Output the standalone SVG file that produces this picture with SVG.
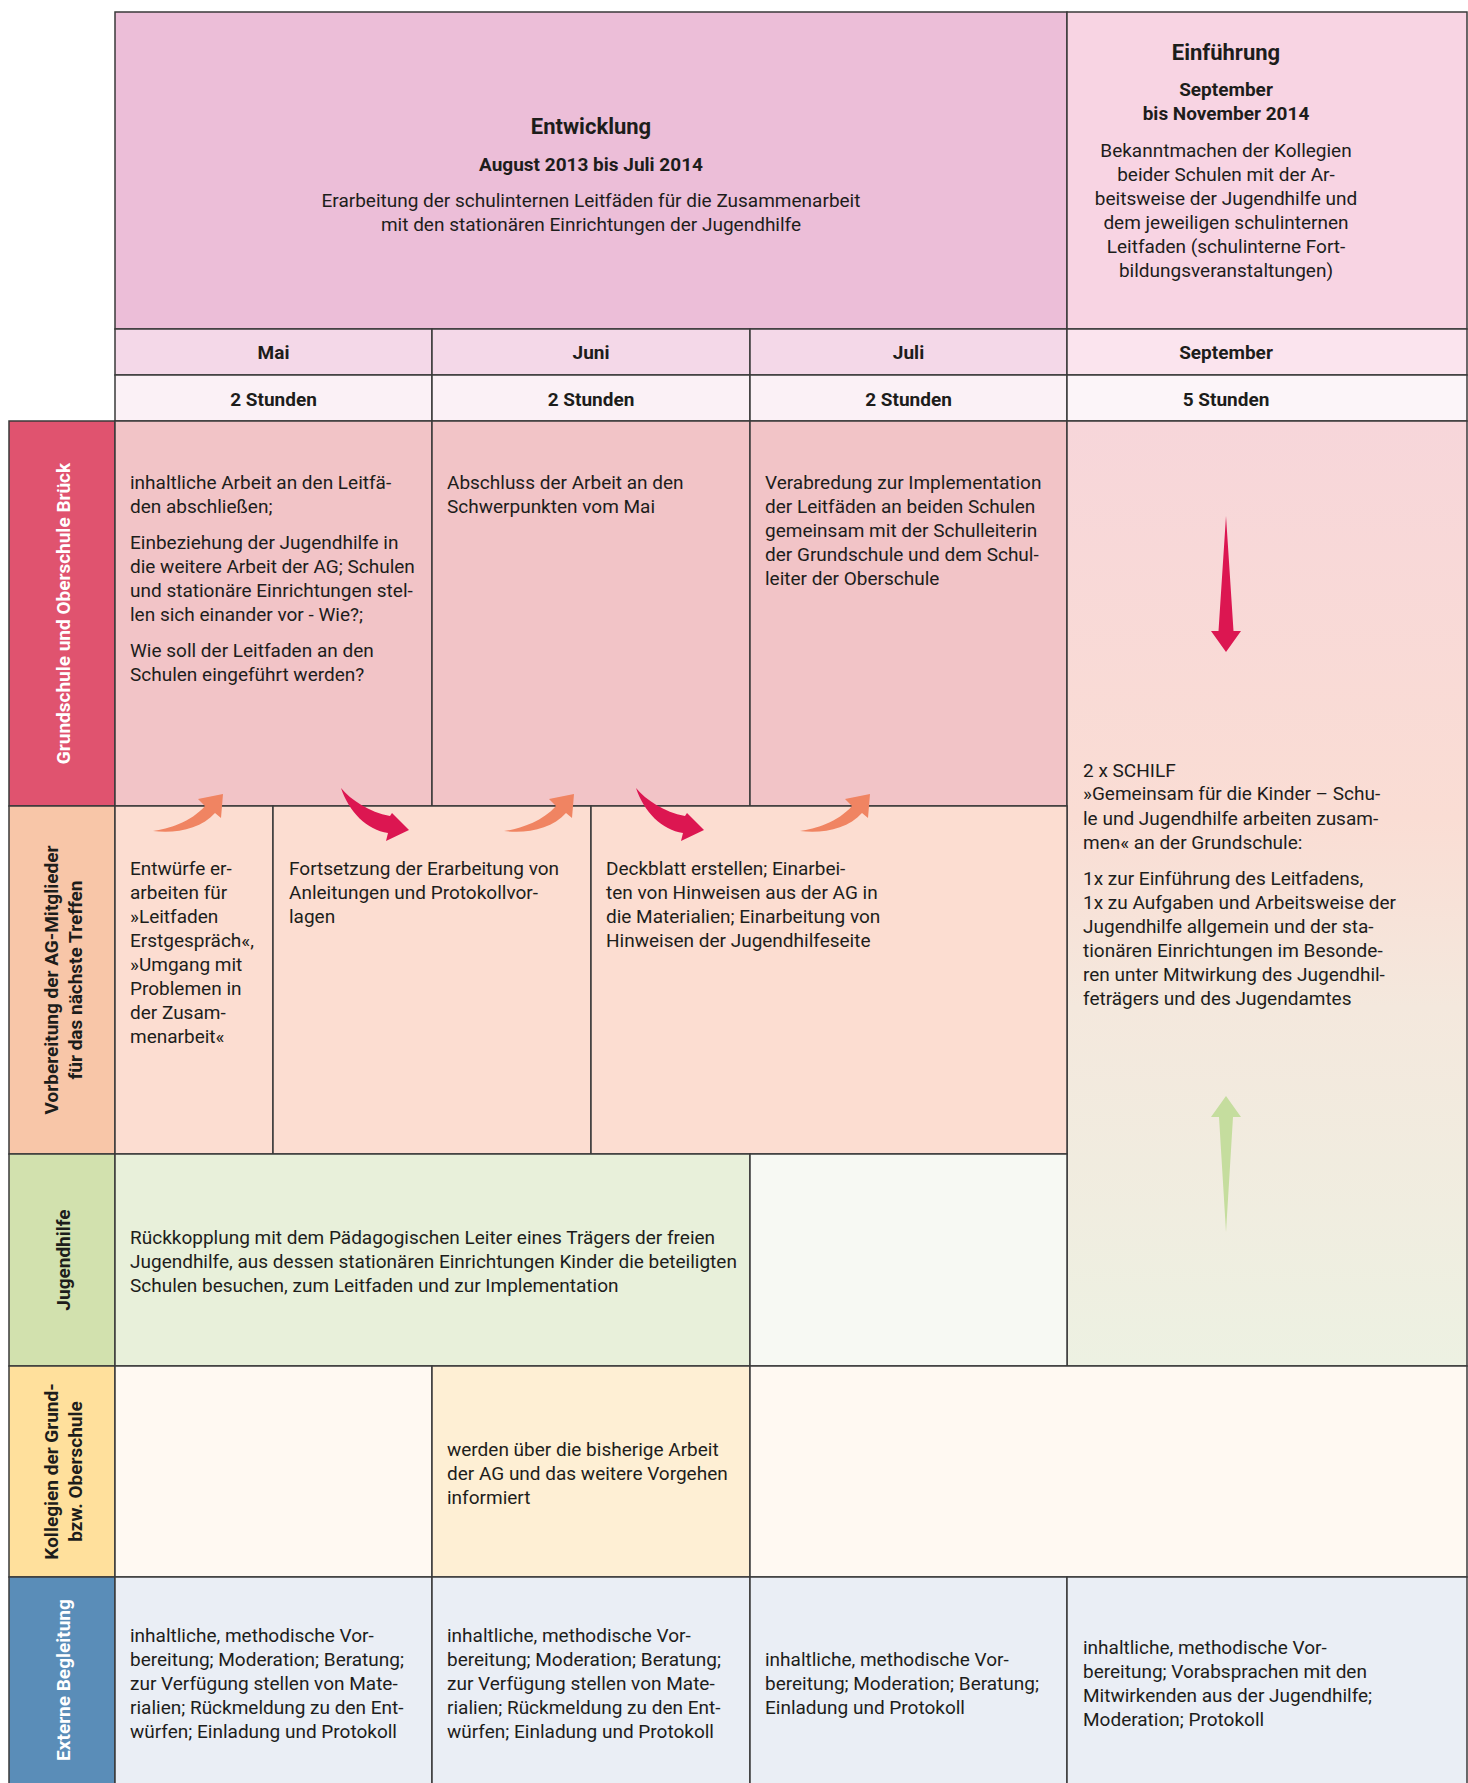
<svg xmlns="http://www.w3.org/2000/svg" xmlns:xlink="http://www.w3.org/1999/xlink" width="1468" height="1783" viewBox="0 0 1468 1783">
<style>
text { font-family: Roboto, "Liberation Sans", sans-serif; font-size: 19px; fill: #1d1d1b; }
.b { font-weight: bold; }
.c { text-anchor: middle; }
.h1 { font-size: 22px; font-weight: bold; }
.w { fill: #ffffff; }
.cell { stroke: #3a3a3a; stroke-width: 1.5; }
</style>
<defs>
<linearGradient id="gSep" x1="0" y1="0" x2="0" y2="1">
<stop offset="0" stop-color="#F7D6DA"/>
<stop offset="0.42" stop-color="#FADDD4"/>
<stop offset="0.62" stop-color="#F4E8DD"/>
<stop offset="1" stop-color="#EDF1E2"/>
</linearGradient>
<path id="curveUp" d="M -70,37 C -55,35 -32,28 -18,12 L -25,5 L 0,0 L -2,24 L -8,19 C -22,35 -48,40 -70,37 Z"/>
<path id="curveDown" d="M -68,-42 C -58,-30 -40,-18 -19,-14 L -17,-17 L 0,0 L -23,11 L -21,3 C -42,0 -60,-18 -68,-42 Z"/>
</defs>
<rect width="1468" height="1783" fill="#ffffff"/>

<g id="header-entwicklung">
<rect class="cell" x="115" y="12" width="952" height="317" fill="#ECBED8"/>
<text class="h1 c" x="591" y="134">Entwicklung</text>
<text class="b c" x="591" y="171">August 2013 bis Juli 2014</text>
<text class="c" x="591" y="207">Erarbeitung der schulinternen Leitfäden für die Zusammenarbeit</text>
<text class="c" x="591" y="231">mit den stationären Einrichtungen der Jugendhilfe</text>
</g>
<g id="header-einfuehrung">
<rect class="cell" x="1067" y="12" width="400" height="317" fill="#F8D4E3"/>
<text class="h1 c" x="1226" y="60">Einführung</text>
<text class="b c" x="1226" y="96">September</text>
<text class="b c" x="1226" y="120">bis November 2014</text>
<text class="c" x="1226" y="157">Bekanntmachen der Kollegien</text>
<text class="c" x="1226" y="181">beider Schulen mit der Ar-</text>
<text class="c" x="1226" y="205">beitsweise der Jugendhilfe und</text>
<text class="c" x="1226" y="229">dem jeweiligen schulinternen</text>
<text class="c" x="1226" y="253">Leitfaden (schulinterne Fort-</text>
<text class="c" x="1226" y="277">bildungsveranstaltungen)</text>
</g>

<g id="month-mai"><rect class="cell" x="115" y="329" width="317" height="46" fill="#F4D8E8"/><text class="b c" x="273.5" y="359">Mai</text></g>
<g id="month-juni"><rect class="cell" x="432" y="329" width="318" height="46" fill="#F4D8E8"/><text class="b c" x="591" y="359">Juni</text></g>
<g id="month-juli"><rect class="cell" x="750" y="329" width="317" height="46" fill="#F4D8E8"/><text class="b c" x="908.5" y="359">Juli</text></g>
<g id="month-september"><rect class="cell" x="1067" y="329" width="400" height="46" fill="#FBE4EE"/><text class="b c" x="1226" y="359">September</text></g>

<g id="hours-mai"><rect class="cell" x="115" y="375" width="317" height="46" fill="#FBF1F6"/><text class="b c" x="273.5" y="406">2 Stunden</text></g>
<g id="hours-juni"><rect class="cell" x="432" y="375" width="318" height="46" fill="#FBF1F6"/><text class="b c" x="591" y="406">2 Stunden</text></g>
<g id="hours-juli"><rect class="cell" x="750" y="375" width="317" height="46" fill="#FBF1F6"/><text class="b c" x="908.5" y="406">2 Stunden</text></g>
<g id="hours-september"><rect class="cell" x="1067" y="375" width="400" height="46" fill="#FCF5F9"/><text class="b c" x="1226" y="406">5 Stunden</text></g>

<g id="label-schule">
<rect class="cell" x="9" y="421" width="106" height="385" fill="#E0536F"/>
<text class="b c w" transform="translate(70,613.5) rotate(-90)">Grundschule und Oberschule Brück</text>
</g>
<g id="label-ag">
<rect class="cell" x="9" y="806" width="106" height="348" fill="#F8C6A8"/>
<text class="b c" transform="translate(58,980) rotate(-90)">Vorbereitung der AG-Mitglieder</text>
<text class="b c" transform="translate(82,980) rotate(-90)">für das nächste Treffen</text>
</g>
<g id="label-jugendhilfe">
<rect class="cell" x="9" y="1154" width="106" height="212" fill="#D2E1AE"/>
<text class="b c" transform="translate(70,1260) rotate(-90)">Jugendhilfe</text>
</g>
<g id="label-kollegien">
<rect class="cell" x="9" y="1366" width="106" height="211" fill="#FFE09C"/>
<text class="b c" transform="translate(58,1471.5) rotate(-90)">Kollegien der Grund-</text>
<text class="b c" transform="translate(82,1471.5) rotate(-90)">bzw. Oberschule</text>
</g>
<g id="label-extern">
<rect class="cell" x="9" y="1577" width="106" height="208" fill="#5A8DB8"/>
<text class="b c w" transform="translate(70,1680) rotate(-90)">Externe Begleitung</text>
</g>

<g id="schule-mai">
<rect class="cell" x="115" y="421" width="317" height="385" fill="#F2C4C7"/>
<text x="130" y="489">inhaltliche Arbeit an den Leitfä-</text>
<text x="130" y="513">den abschließen;</text>
<text x="130" y="549">Einbeziehung der Jugendhilfe in</text>
<text x="130" y="573">die weitere Arbeit der AG; Schulen</text>
<text x="130" y="597">und stationäre Einrichtungen stel-</text>
<text x="130" y="621">len sich einander vor - Wie?;</text>
<text x="130" y="657">Wie soll der Leitfaden an den</text>
<text x="130" y="681">Schulen eingeführt werden?</text>
</g>
<g id="schule-juni">
<rect class="cell" x="432" y="421" width="318" height="385" fill="#F2C4C7"/>
<text x="447" y="489">Abschluss der Arbeit an den</text>
<text x="447" y="513">Schwerpunkten vom Mai</text>
</g>
<g id="schule-juli">
<rect class="cell" x="750" y="421" width="317" height="385" fill="#F2C4C7"/>
<text x="765" y="489">Verabredung zur Implementation</text>
<text x="765" y="513">der Leitfäden an beiden Schulen</text>
<text x="765" y="537">gemeinsam mit der Schulleiterin</text>
<text x="765" y="561">der Grundschule und dem Schul-</text>
<text x="765" y="585">leiter der Oberschule</text>
</g>
<g id="september-schilf">
<rect class="cell" x="1067" y="421" width="400" height="945" fill="url(#gSep)"/>
<text x="1083" y="777">2 x SCHILF</text>
<text x="1083" y="800">»Gemeinsam für die Kinder – Schu-</text>
<text x="1083" y="825">le und Jugendhilfe arbeiten zusam-</text>
<text x="1083" y="849">men« an der Grundschule:</text>
<text x="1083" y="885">1x zur Einführung des Leitfadens,</text>
<text x="1083" y="909">1x zu Aufgaben und Arbeitsweise der</text>
<text x="1083" y="933">Jugendhilfe allgemein und der sta-</text>
<text x="1083" y="957">tionären Einrichtungen im Besonde-</text>
<text x="1083" y="981">ren unter Mitwirkung des Jugendhil-</text>
<text x="1083" y="1005">feträgers und des Jugendamtes</text>
</g>

<g id="ag-mai">
<rect class="cell" x="115" y="806" width="158" height="348" fill="#FCDDD1"/>
<text x="130" y="875">Entwürfe er-</text>
<text x="130" y="899">arbeiten für</text>
<text x="130" y="923">»Leitfaden</text>
<text x="130" y="947">Erstgespräch«,</text>
<text x="130" y="971">»Umgang mit</text>
<text x="130" y="995">Problemen in</text>
<text x="130" y="1019">der Zusam-</text>
<text x="130" y="1043">menarbeit«</text>
</g>
<g id="ag-juni">
<rect class="cell" x="273" y="806" width="318" height="348" fill="#FCDDD1"/>
<text x="289" y="875">Fortsetzung der Erarbeitung von</text>
<text x="289" y="899">Anleitungen und Protokollvor-</text>
<text x="289" y="923">lagen</text>
</g>
<g id="ag-juli">
<rect class="cell" x="591" y="806" width="476" height="348" fill="#FCDDD1"/>
<text x="606" y="875">Deckblatt erstellen; Einarbei-</text>
<text x="606" y="899">ten von Hinweisen aus der AG in</text>
<text x="606" y="923">die Materialien; Einarbeitung von</text>
<text x="606" y="947">Hinweisen der Jugendhilfeseite</text>
</g>

<g id="jugendhilfe-mai-juni">
<rect class="cell" x="115" y="1154" width="635" height="212" fill="#E8F0DA"/>
<text x="130" y="1244">Rückkopplung mit dem Pädagogischen Leiter eines Trägers der freien</text>
<text x="130" y="1268">Jugendhilfe, aus dessen stationären Einrichtungen Kinder die beteiligten</text>
<text x="130" y="1292">Schulen besuchen, zum Leitfaden und zur Implementation</text>
</g>
<g id="jugendhilfe-juli">
<rect class="cell" x="750" y="1154" width="317" height="212" fill="#F7F9F3"/>
</g>

<g id="kollegien-mai">
<rect class="cell" x="115" y="1366" width="317" height="211" fill="#FFF9F2"/>
</g>
<g id="kollegien-juni">
<rect class="cell" x="432" y="1366" width="318" height="211" fill="#FEEFD4"/>
<text x="447" y="1456">werden über die bisherige Arbeit</text>
<text x="447" y="1480">der AG und das weitere Vorgehen</text>
<text x="447" y="1504">informiert</text>
</g>
<g id="kollegien-juli-september">
<rect class="cell" x="750" y="1366" width="717" height="211" fill="#FFF9F2"/>
</g>

<g id="extern-mai">
<rect class="cell" x="115" y="1577" width="317" height="208" fill="#EAEEF5"/>
<text x="130" y="1642">inhaltliche, methodische Vor-</text>
<text x="130" y="1666">bereitung; Moderation; Beratung;</text>
<text x="130" y="1690">zur Verfügung stellen von Mate-</text>
<text x="130" y="1714">rialien; Rückmeldung zu den Ent-</text>
<text x="130" y="1738">würfen; Einladung und Protokoll</text>
</g>
<g id="extern-juni">
<rect class="cell" x="432" y="1577" width="318" height="208" fill="#EAEEF5"/>
<text x="447" y="1642">inhaltliche, methodische Vor-</text>
<text x="447" y="1666">bereitung; Moderation; Beratung;</text>
<text x="447" y="1690">zur Verfügung stellen von Mate-</text>
<text x="447" y="1714">rialien; Rückmeldung zu den Ent-</text>
<text x="447" y="1738">würfen; Einladung und Protokoll</text>
</g>
<g id="extern-juli">
<rect class="cell" x="750" y="1577" width="317" height="208" fill="#EAEEF5"/>
<text x="765" y="1666">inhaltliche, methodische Vor-</text>
<text x="765" y="1690">bereitung; Moderation; Beratung;</text>
<text x="765" y="1714">Einladung und Protokoll</text>
</g>
<g id="extern-september">
<rect class="cell" x="1067" y="1577" width="400" height="208" fill="#EAEEF5"/>
<text x="1083" y="1654">inhaltliche, methodische Vor-</text>
<text x="1083" y="1678">bereitung; Vorabsprachen mit den</text>
<text x="1083" y="1702">Mitwirkenden aus der Jugendhilfe;</text>
<text x="1083" y="1726">Moderation; Protokoll</text>
</g>

<g id="connectors">
<use xlink:href="#curveUp" transform="translate(223,794)" fill="#F08462"/>
<use xlink:href="#curveDown" transform="translate(409,830)" fill="#DC1651"/>
<use xlink:href="#curveUp" transform="translate(574,794)" fill="#F08462"/>
<use xlink:href="#curveDown" transform="translate(704,830)" fill="#DC1651"/>
<use xlink:href="#curveUp" transform="translate(870,794)" fill="#F08462"/>
<path d="M 1226,516 L 1233.5,631 L 1241,631 L 1226,652 L 1211,631 L 1218.5,631 Z" fill="#DC1651"/>
<path d="M 1226,1096 L 1241,1117 L 1233,1117 L 1226,1232 L 1219,1117 L 1211,1117 Z" fill="#C5DD9E"/>
</g>
</svg>
